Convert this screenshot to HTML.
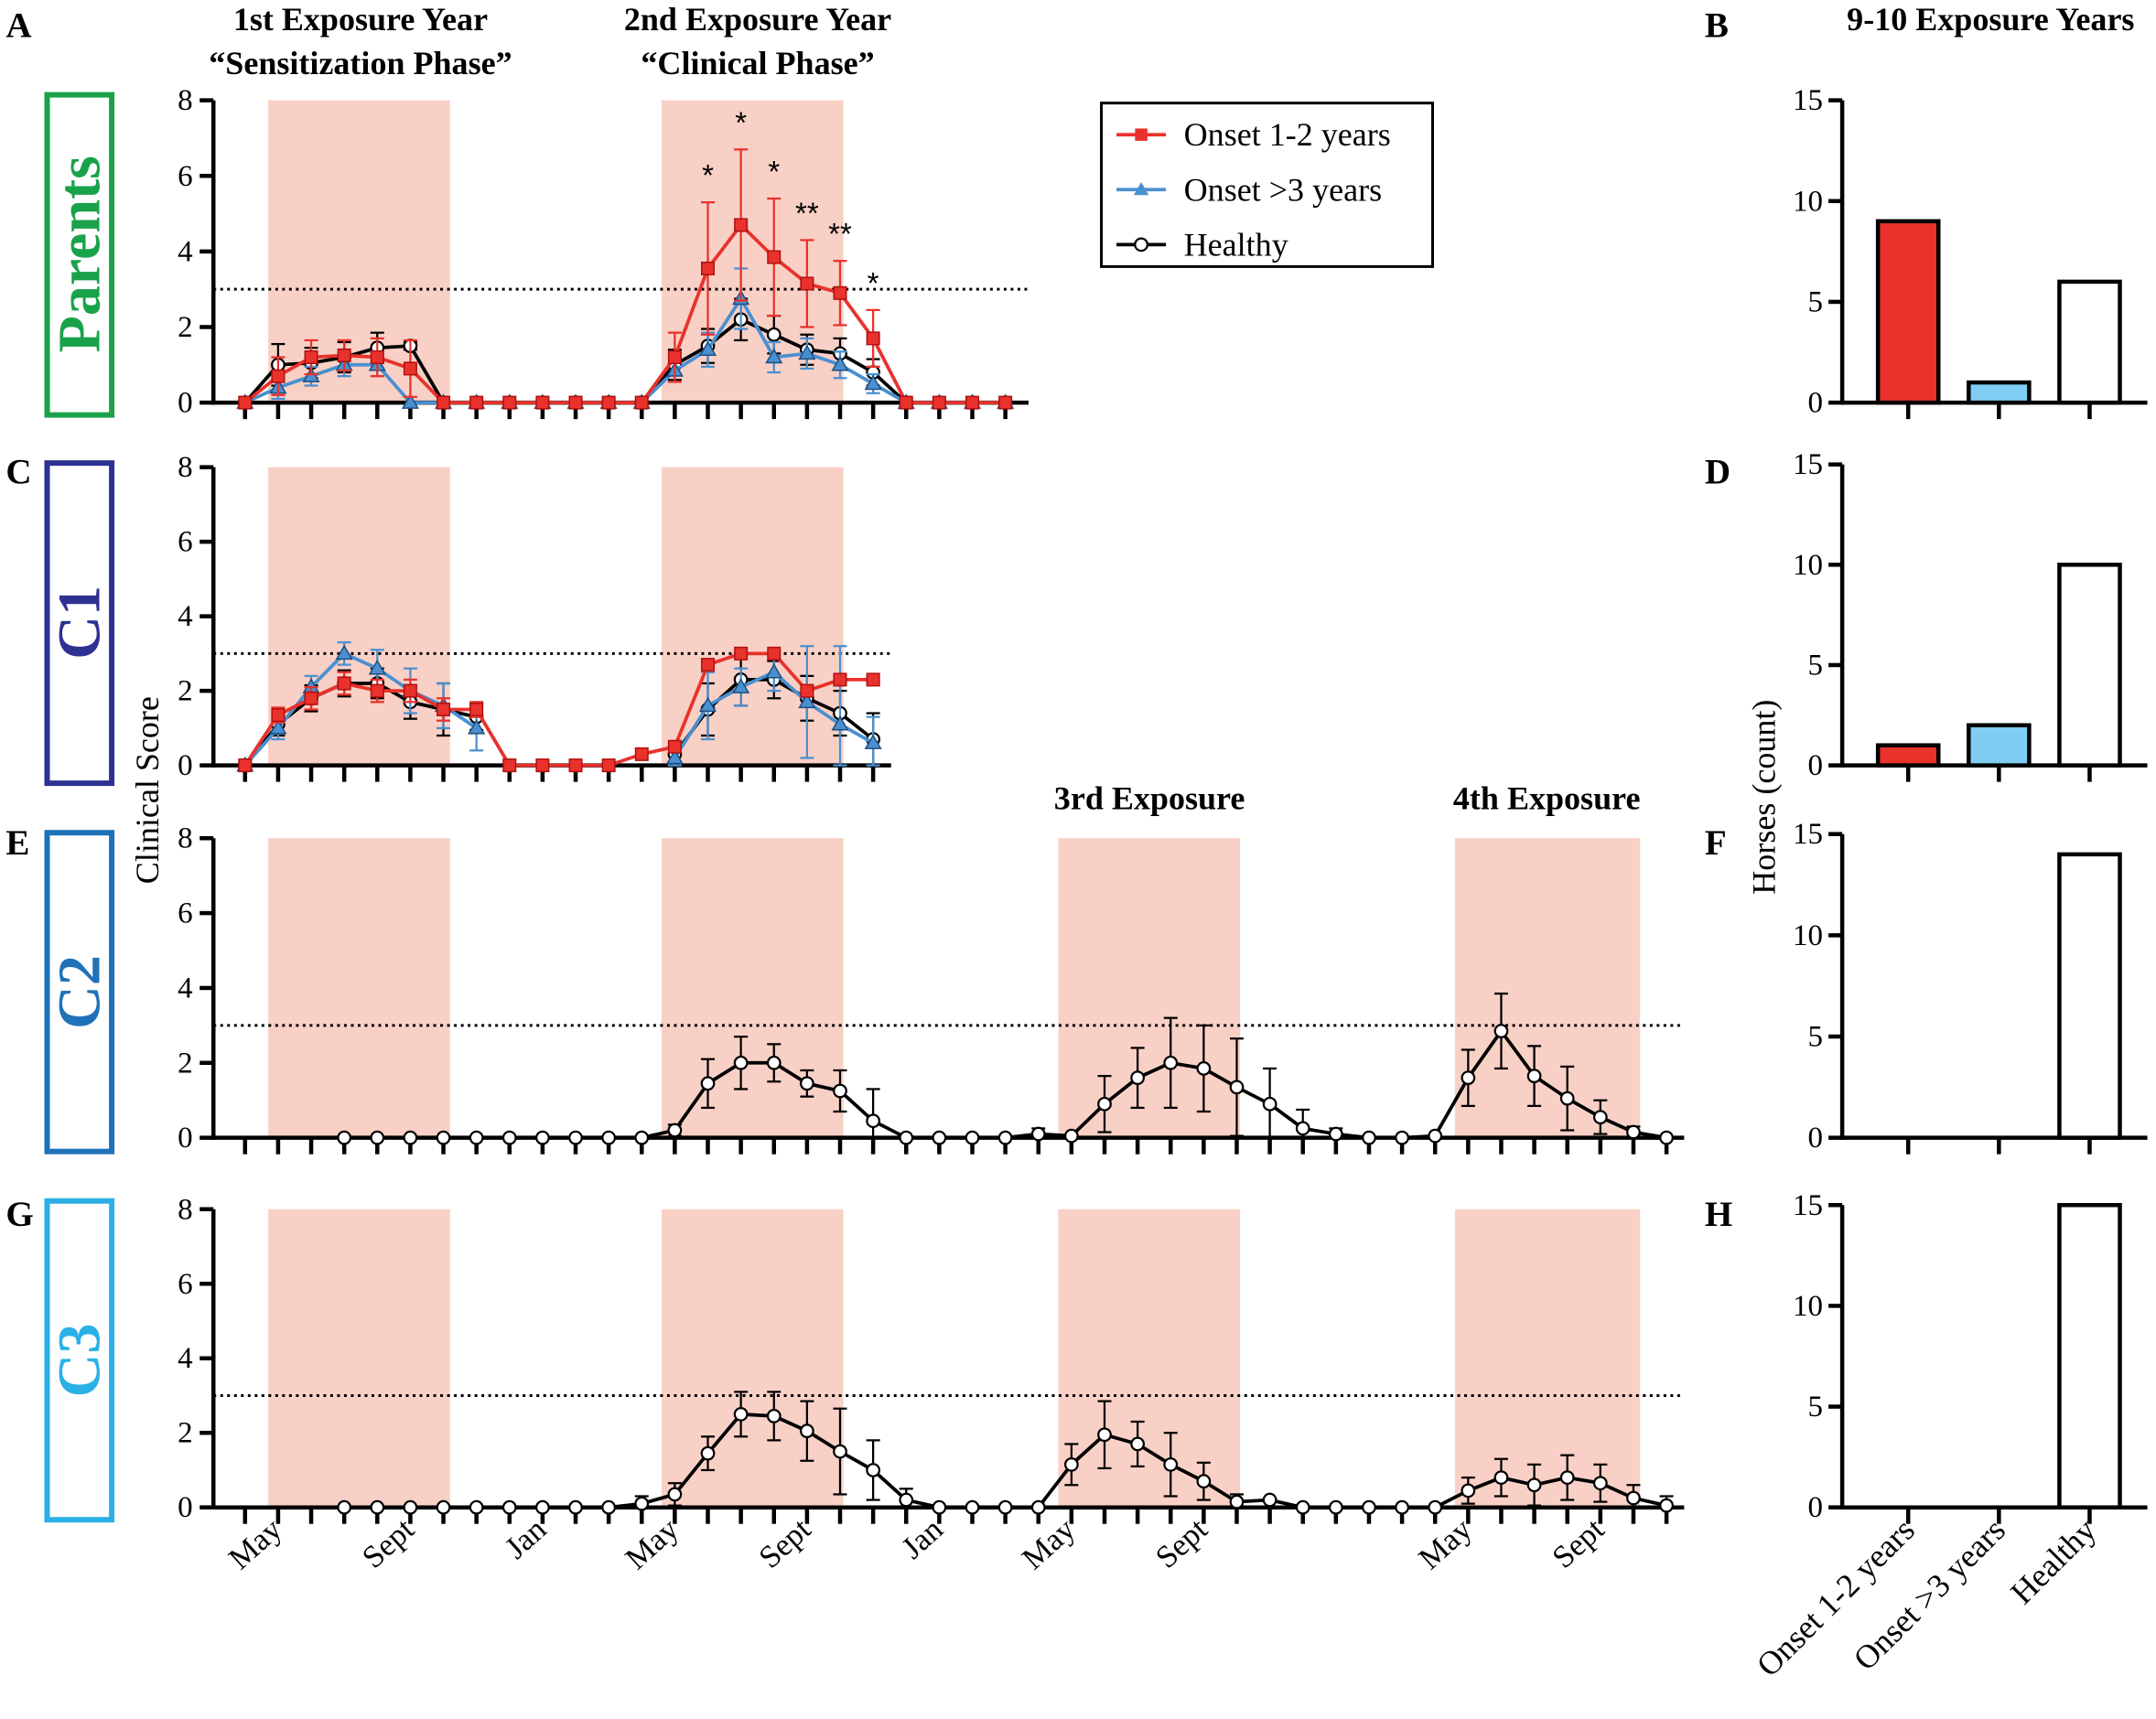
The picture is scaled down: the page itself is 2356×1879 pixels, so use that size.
<!DOCTYPE html>
<html><head><meta charset="utf-8"><style>
html,body{margin:0;padding:0;background:#fff}
svg{display:block;font-family:"Liberation Serif",serif}
</style></head><body>
<svg id="fig" width="2356" height="1879" viewBox="0 0 1568 1251" xmlns="http://www.w3.org/2000/svg">
<g id="static" font-weight="bold" font-size="26">
<text x="4" y="27">A</text>
<text x="4" y="352">C</text>
<text x="4" y="622">E</text>
<text x="4" y="892">G</text>
<text x="1240" y="27">B</text>
<text x="1240" y="352">D</text>
<text x="1240" y="622">F</text>
<text x="1240" y="892">H</text>
<g font-size="24" text-anchor="middle">
<text x="262" y="22">1st Exposure Year</text>
<text x="262" y="54">“Sensitization Phase”</text>
<text x="551" y="22">2nd Exposure Year</text>
<text x="551" y="54">“Clinical Phase”</text>
<text x="836" y="589">3rd Exposure</text>
<text x="1125" y="589">4th Exposure</text>
<text x="1448" y="22">9-10 Exposure Years</text>
</g>
</g>
<g font-weight="normal" font-size="24">
<text transform="translate(115,575) rotate(-90)" text-anchor="middle">Clinical Score</text>
<text transform="translate(1291,580) rotate(-90)" text-anchor="middle">Horses (count)</text>
</g>
<g id="rowboxes" font-weight="bold">
<rect x="34" y="69" width="47" height="233" fill="none" stroke="#1aa24a" stroke-width="4"/>
<text transform="translate(72,185) rotate(-90)" text-anchor="middle" fill="#1aa24a" font-size="44">Parents</text>
<rect x="34" y="337" width="47" height="233" fill="none" stroke="#2e3192" stroke-width="4"/>
<text transform="translate(72,453) rotate(-90)" text-anchor="middle" fill="#2e3192" font-size="44">C1</text>
<rect x="34" y="606" width="47" height="232" fill="none" stroke="#1f72b8" stroke-width="4"/>
<text transform="translate(72,722) rotate(-90)" text-anchor="middle" fill="#1f72b8" font-size="44">C2</text>
<rect x="34" y="874" width="47" height="232" fill="none" stroke="#2bb0e6" stroke-width="4"/>
<text transform="translate(72,990) rotate(-90)" text-anchor="middle" fill="#2bb0e6" font-size="44">C3</text>
</g>
<g id="legend">
<rect x="801" y="75" width="241" height="119" fill="#fff" stroke="#000" stroke-width="2"/>
</g>
<g id="plots"></g>
</svg>
<script>
const months = ["May","Sept","Jan","May","Sept","Jan","May","Sept","May","Sept"];
const monthTicks = [1,5,9,13,17,21,25,29,37,41];
const yTicks = [0,2,4,6,8];
const barTicks = [0,5,10,15];
const barCats = ["Onset 1-2 years","Onset >3 years","Healthy"];
const N = null;
// Parents
const pRed  = [0,0.7,1.2,1.25,1.2,0.9,0,0,0,0,0,0,0,1.2,3.55,4.7,3.85,3.15,2.9,1.7,0,0,0,0];
const pRedE = [0,0.5,0.45,0.4,0.5,0.75,0,0,0,0,0,0,0,0.65,1.75,2.0,1.55,1.15,0.85,0.75,0,0,0,0];
const pBlue = [0,0.4,0.7,1.0,1.0,0,0,0,0,0,0,0,0,0.85,1.4,2.75,1.2,1.3,1.0,0.5,0,0,0,0];
const pBlueE= [0,0.3,0.25,0.3,0.3,0,0,0,0,0,0,0,0,0.3,0.45,0.8,0.4,0.4,0.35,0.25,0,0,0,0];
const pBlk  = [0,1.0,1.05,1.2,1.45,1.5,0,0,0,0,0,0,0,1.0,1.5,2.2,1.8,1.4,1.3,0.8,0,0,0,0];
const pBlkE = [0,0.55,0.4,0.4,0.4,0.1,0,0,0,0,0,0,0,0.4,0.45,0.55,0.5,0.4,0.4,0.35,0,0,0,0];
const pStars = ["","","","","","","","","","","","","","","*","*","*","**","**","*"];
// C1
const c1Red  = [0,1.35,1.8,2.2,2.0,2.0,1.5,1.5,0,0,0,0,0.3,0.5,2.7,3.0,3.0,2.0,2.3,2.3];
const c1RedE = [0,0.2,0.3,0.3,0.3,0.3,0.3,0.2,0,0,0,0,0,0,0,0,0,0,0,0];
const c1Blue = [0,1.0,2.1,3.0,2.6,2.0,1.6,1.0,N,N,N,N,N,0.2,1.6,2.1,2.5,1.7,1.1,0.6];
const c1BlueE= [0,0.3,0.3,0.3,0.5,0.6,0.6,0.6,0,0,0,0,0,0.2,0.9,0.5,0.5,1.5,2.1,0.7];
const c1Blk  = [0,1.1,1.8,2.2,2.2,1.7,1.5,1.3,N,N,N,N,N,0.3,1.5,2.3,2.3,1.8,1.4,0.7];
const c1BlkE = [0,0.3,0.35,0.35,0.4,0.45,0.7,0.35,0,0,0,0,0,0.2,0.7,0.7,0.5,0.6,0.6,0.7];
// C2
const c2Blk = [N,N,N,0,0,0,0,0,0,0,0,0,0,0.2,1.45,2.0,2.0,1.45,1.25,0.45,0,0,0,0,0.1,0.05,0.9,1.6,2.0,1.85,1.35,0.9,0.25,0.1,0,0,0.05,1.6,2.85,1.65,1.05,0.55,0.15,0];
const c2E   = [0,0,0,0,0,0,0,0,0,0,0,0,0,0.15,0.65,0.7,0.5,0.35,0.55,0.85,0,0,0,0,0.15,0,0.75,0.8,1.2,1.15,1.3,0.95,0.5,0.15,0,0,0,0.75,1.0,0.8,0.85,0.45,0.15,0];
// C3
const c3Blk = [N,N,N,0,0,0,0,0,0,0,0,0,0.1,0.35,1.45,2.5,2.45,2.05,1.5,1.0,0.2,0,0,0,0,1.15,1.95,1.7,1.15,0.7,0.15,0.2,0,0,0,0,0,0.45,0.8,0.6,0.8,0.65,0.25,0.05];
const c3E   = [0,0,0,0,0,0,0,0,0,0,0,0,0.2,0.3,0.45,0.6,0.65,0.8,1.15,0.8,0.3,0,0,0,0,0.55,0.9,0.6,0.85,0.5,0.2,0,0,0,0,0,0,0.35,0.5,0.55,0.6,0.5,0.35,0.25];
// bars
const barsB = [9,1,6];
const barsD = [1,2,10];
const barsF = [0,0,14];
const barsH = [0,0,15];

const NS="http://www.w3.org/2000/svg";
const plots=document.getElementById('plots');
function mk(tag,attrs,parent,text){const e=document.createElementNS(NS,tag);for(const k in attrs)e.setAttribute(k,attrs[k]);if(text!==undefined)e.textContent=text;(parent||plots).appendChild(e);return e;}
const X0=178, DX=24.05;
function xs(i){return X0+i*DX;}
const RED="#e8322b", BLUE="#4a90d0";
const shadeRanges=[[0.7,6.2],[12.6,18.1],[24.6,30.1],[36.6,42.2]];

function panel(top,bottom,nTicks,axisEnd,dotEnd,nShade,name){
  const ys=v=>bottom-(v/8)*(bottom-top);
  const g=mk('g',{});
  
  
  for(let s=0;s<nShade;s++){
    const r=mk('rect',{x:xs(shadeRanges[s][0]),y:top,width:xs(shadeRanges[s][1])-xs(shadeRanges[s][0]),height:bottom-top,fill:'#f9d0c6'},g);
    
    
  }
  const dl=mk('line',{x1:155,x2:dotEnd,y1:ys(3),y2:ys(3),stroke:'#000','stroke-width':2,'stroke-dasharray':'2,3'},g);
  
  
  mk('line',{x1:155,x2:155,y1:top,y2:bottom+1.5,stroke:'#000','stroke-width':3},g);
  mk('line',{x1:153.5,x2:axisEnd,y1:bottom,y2:bottom,stroke:'#000','stroke-width':3},g);
  yTicks.forEach(t=>{
    mk('line',{x1:145,x2:155,y1:ys(t),y2:ys(t),stroke:'#000','stroke-width':3},g);
    const tl=mk('text',{x:140,y:ys(t)+7,'text-anchor':'end','font-size':22},g,String(t));
    
    
  });
  for(let i=0;i<nTicks;i++) mk('line',{x1:xs(i),x2:xs(i),y1:bottom,y2:bottom+12,stroke:'#000','stroke-width':3},g);
  return {g,ys};
}
function series(P,vals,errs,color,marker,name){
  const g=mk('g',{},P.g);
  
  
  vals.forEach((v,i)=>{ if(v===null||!errs[i])return;
    const x=xs(i),y1=P.ys(v+errs[i]),y2=P.ys(Math.max(0,v-errs[i]));
    mk('line',{x1:x,x2:x,y1:y1,y2:y2,stroke:color,'stroke-width':1.5},g);
    mk('line',{x1:x-5,x2:x+5,y1:y1,y2:y1,stroke:color,'stroke-width':1.5},g);
    mk('line',{x1:x-5,x2:x+5,y1:y2,y2:y2,stroke:color,'stroke-width':1.5},g);
  });
  let d='',pen=false;
  vals.forEach((v,i)=>{ if(v===null){pen=false;return;} d+=(pen?'L':'M')+xs(i)+','+P.ys(v); pen=true;});
  mk('path',{d:d,fill:'none',stroke:color,'stroke-width':2.5},g);
  vals.forEach((v,i)=>{ if(v===null)return; const x=xs(i),y=P.ys(v); let m;
    if(marker==='sq') m=mk('rect',{x:x-4.5,y:y-4.5,width:9,height:9,fill:RED,stroke:'#b01010','stroke-width':1},g);
    else if(marker==='tri') m=mk('path',{d:`M${x},${y-5.5}L${x+5.5},${y+4}L${x-5.5},${y+4}Z`,fill:BLUE,stroke:'#1e4e80','stroke-width':1},g);
    else m=mk('circle',{cx:x,cy:y,r:4.5,fill:'#fff',stroke:'#000','stroke-width':1.5},g);
    
    
  });
}
const A=panel(73,293,24,748,748,2,'parents');
series(A,pBlk,pBlkE,'#000','circ','parents-healthy-series');
series(A,pBlue,pBlueE,BLUE,'tri','parents-onset-3-series');
series(A,pRed,pRedE,RED,'sq','parents-onset-1-2-series');
pStars.forEach((s,i)=>{ if(!s)return;
  const t=mk('text',{x:xs(i),y:A.ys(pRed[i]+pRedE[i])-12,'text-anchor':'middle','font-size':22,'font-family':'Liberation Sans, sans-serif'},A.g,s);
  
  
});
const C=panel(340,557,20,648,648,2,'c1');
series(C,c1Blk,c1BlkE,'#000','circ','c1-healthy-series');
series(C,c1Blue,c1BlueE,BLUE,'tri','c1-onset-3-series');
series(C,c1Red,c1RedE,RED,'sq','c1-onset-1-2-series');
const E=panel(610,828,44,1225,1225,4,'c2');
series(E,c2Blk,c2E,'#000','circ','c2-healthy-series');
const G=panel(880,1097,44,1225,1225,4,'c3');
series(G,c3Blk,c3E,'#000','circ','c3-healthy-series');
monthTicks.forEach((t,k)=>{
  const lb=mk('text',{transform:`translate(${xs(t)+4},${1115}) rotate(-42)`,'text-anchor':'end','font-size':23},plots,months[k]);
  
  
});
const lg=document.getElementById('legend');
[['Onset 1-2 years',RED,'sq'],['Onset >3 years',BLUE,'tri'],['Healthy','#000','circ']].forEach((e,k)=>{
  const y=98+k*40;
  const g=mk('g',{},lg);
  
  
  mk('line',{x1:812,x2:848,y1:y,y2:y,stroke:e[1],'stroke-width':2.5},g);
  if(e[2]==='sq') mk('rect',{x:825.5,y:y-4.5,width:9,height:9,fill:RED},g);
  else if(e[2]==='tri') mk('path',{d:`M830,${y-5.5}L835.5,${y+4}L824.5,${y+4}Z`,fill:BLUE},g);
  else mk('circle',{cx:830,cy:y,r:4.5,fill:'#fff',stroke:'#000','stroke-width':1.5},g);
  mk('text',{x:861,y:y+8,'font-size':24},g,e[0]);
});
const BX0=1340, BX1=1562, barX=[1388,1454,1520], BW=44;
const barColors=[RED,'#7fcdf2','#fff'];
function barPanel(top,bottom,vals,name){
  const ys=v=>bottom-(v/15)*(bottom-top);
  const g=mk('g',{});
  
  
  mk('line',{x1:BX0,x2:BX0,y1:top,y2:bottom+1.5,stroke:'#000','stroke-width':3},g);
  mk('line',{x1:BX0-1.5,x2:BX1,y1:bottom,y2:bottom,stroke:'#000','stroke-width':3},g);
  barTicks.forEach(t=>{
    mk('line',{x1:BX0-10,x2:BX0,y1:ys(t),y2:ys(t),stroke:'#000','stroke-width':3},g);
    const tl=mk('text',{x:BX0-14,y:ys(t)+7,'text-anchor':'end','font-size':22},g,String(t));
    
    
  });
  vals.forEach((v,i)=>{
    mk('line',{x1:barX[i],x2:barX[i],y1:bottom,y2:bottom+12,stroke:'#000','stroke-width':3},g);
    if(v>0){
      const b=mk('rect',{x:barX[i]-BW/2,y:ys(v),width:BW,height:bottom-ys(v),fill:barColors[i],stroke:'#000','stroke-width':3},g);
      
      
    }
  });
}
barPanel(73,293,barsB,'b');
barPanel(338,557,barsD,'d');
barPanel(607,828,barsF,'f');
barPanel(877,1097,barsH,'h');
barCats.forEach((c,i)=>{
  const lb=mk('text',{transform:`translate(${barX[i]+6},${1115}) rotate(-45)`,'text-anchor':'end','font-size':24},plots,c);
  
  
});
</script>
</body></html>
